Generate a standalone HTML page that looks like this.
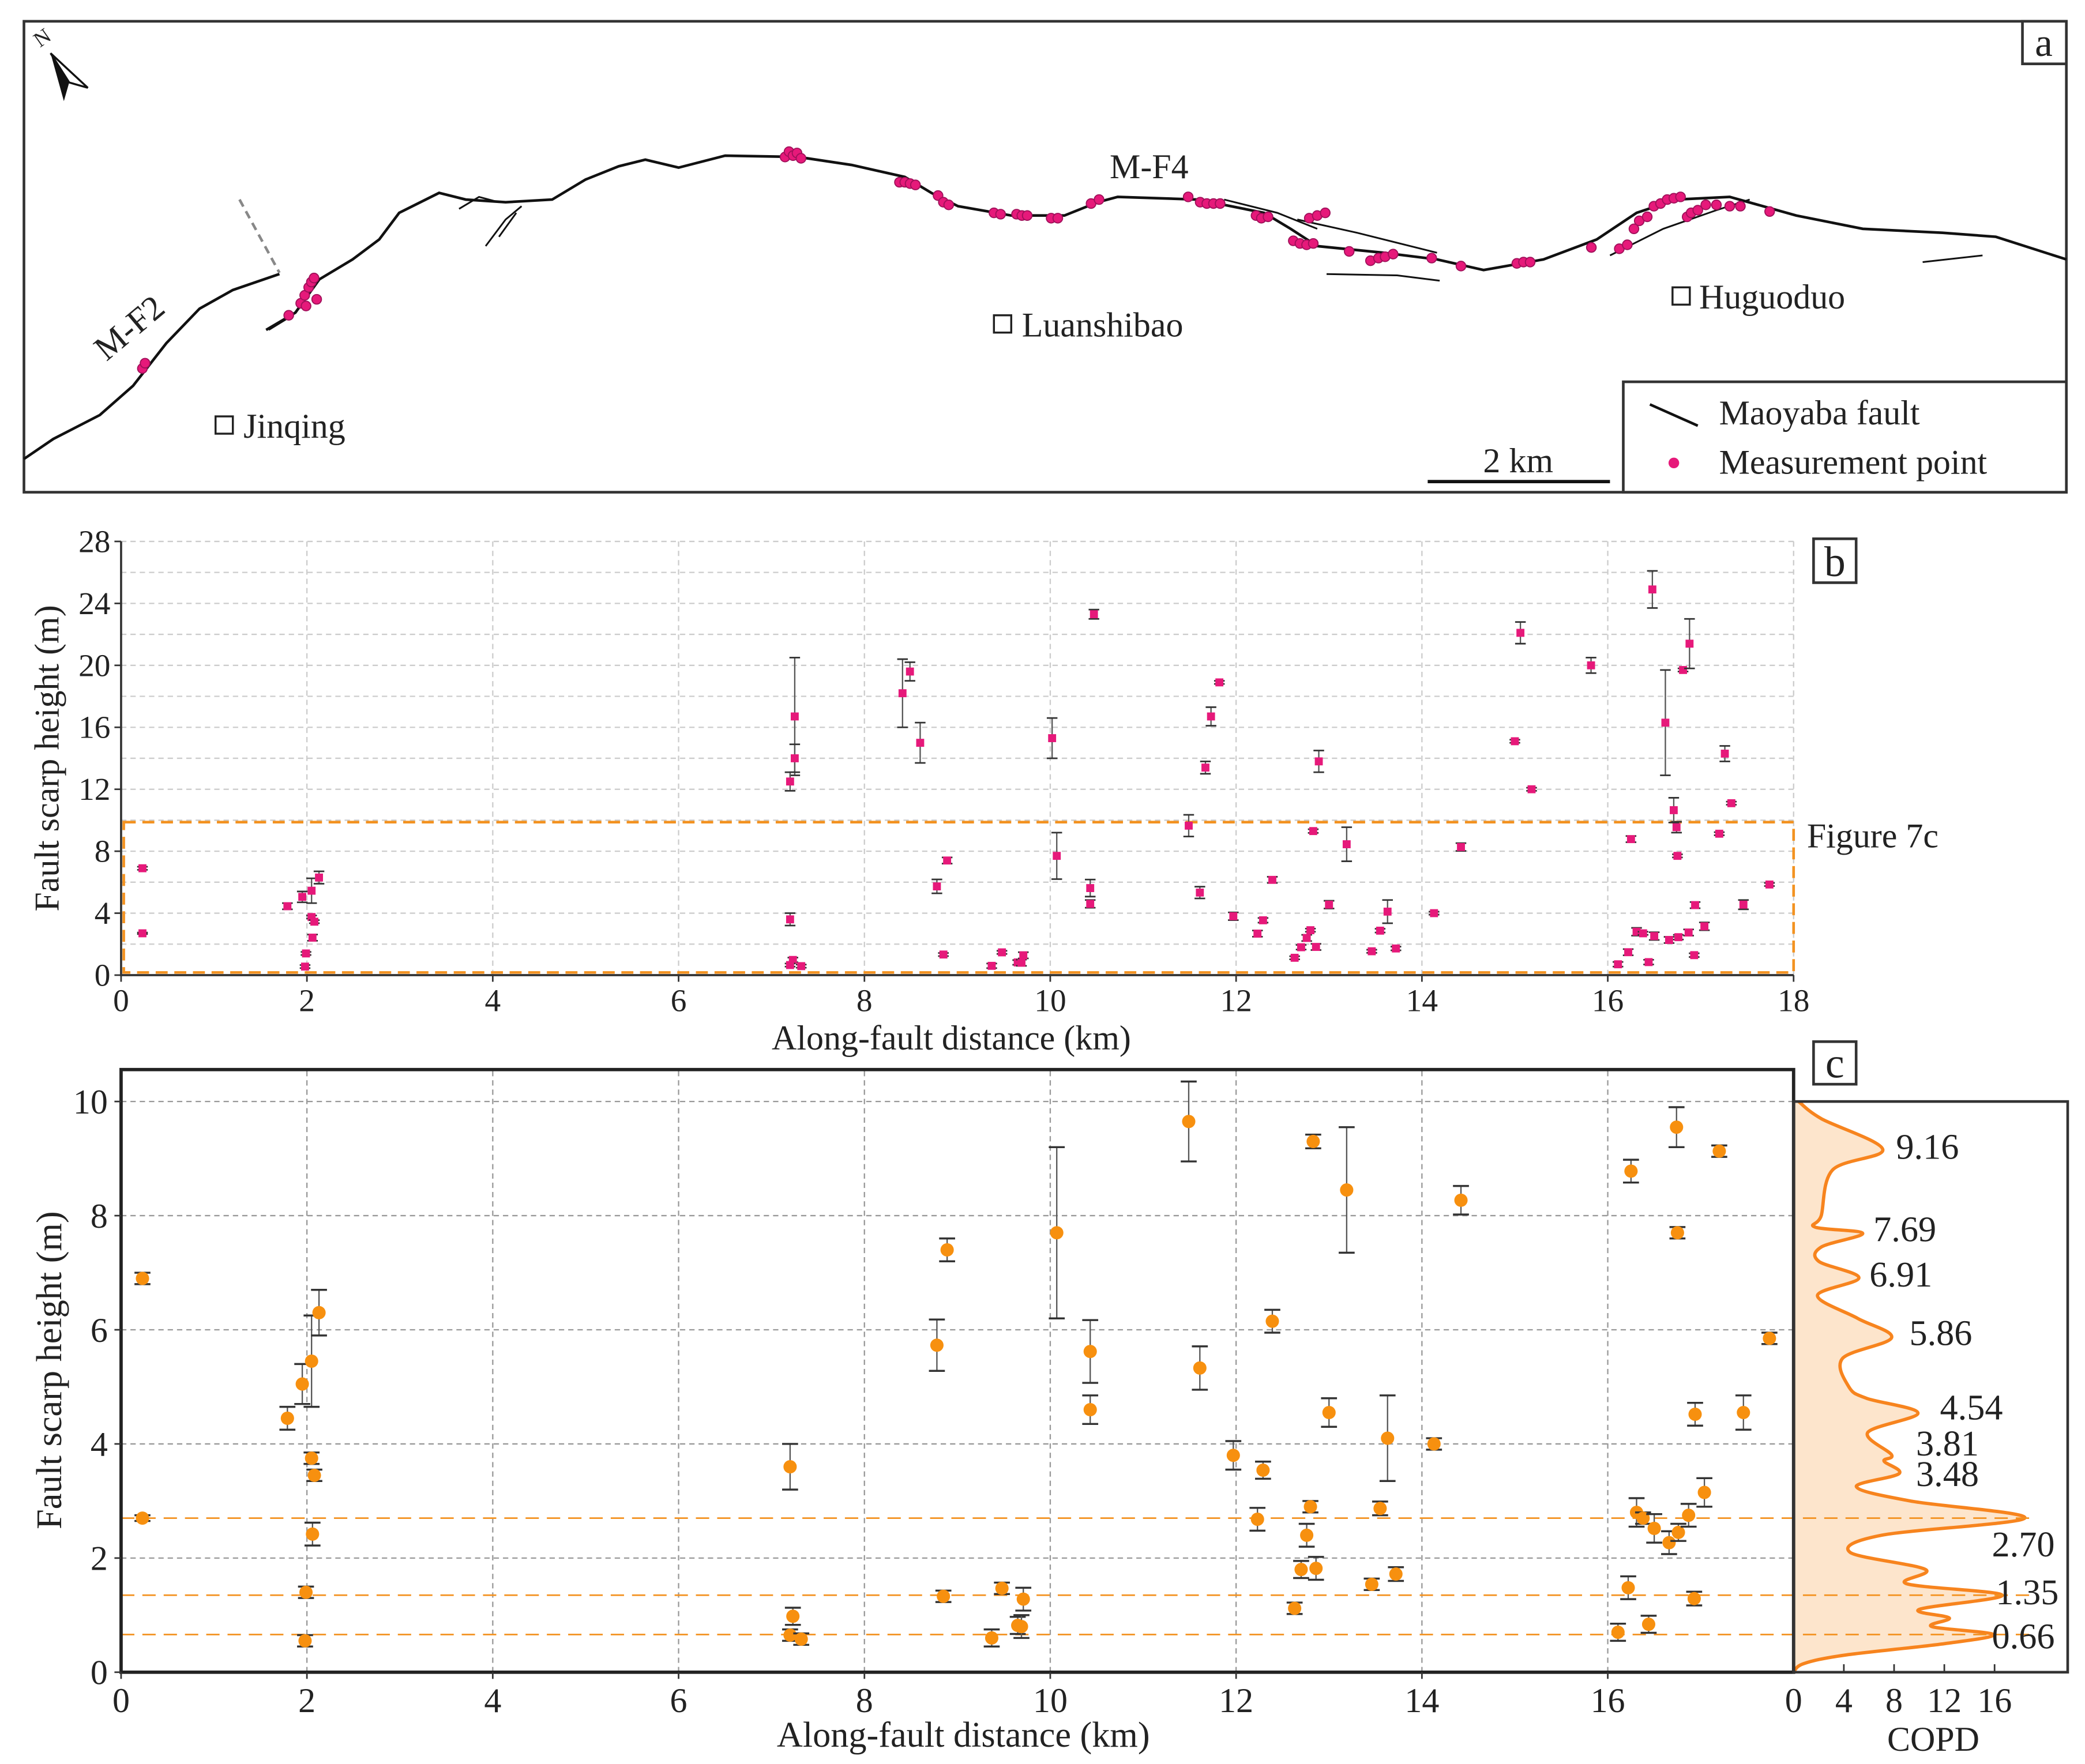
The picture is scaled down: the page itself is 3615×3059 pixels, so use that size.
<!DOCTYPE html>
<html><head><meta charset="utf-8">
<style>
html,body{margin:0;padding:0;background:#fff;}
svg{display:block;}
text{font-family:"Liberation Serif",serif;fill:#222;}
</style></head>
<body>
<svg id="fig" width="3615" height="3059" viewBox="0 0 1567 1326" xmlns="http://www.w3.org/2000/svg">
<rect width="1567" height="1326" fill="#fff"/>
<g id="map">
  <rect x="18" y="16" width="1535" height="354" fill="none" stroke="#333" stroke-width="2"/>
  <rect x="1520" y="16" width="33" height="32" fill="#fff" stroke="#333" stroke-width="2"/>
  <text x="1536" y="42" font-size="30" text-anchor="middle">a</text>
  <g>
    <polygon points="38,40 48,76 52,62" fill="#111"/>
    <polygon points="38,40 66,66 52,62" fill="#fff" stroke="#111" stroke-width="1.5"/>
    <text x="30" y="36" font-size="16" transform="rotate(-35 30 36)">N</text>
  </g>
  <polyline fill="none" stroke="#111" stroke-width="2" points="18,345 40,330 75,312 100,290 125,258 150,232 175,218 210,206"/>
  <line x1="180" y1="150" x2="210" y2="205" stroke="#888" stroke-width="2" stroke-dasharray="6,4"/>
  <polyline fill="none" stroke="#111" stroke-width="2" points="200,248 222,235 240,210 265,195 285,180 300,160 330,145 350,150 380,152 415,150 440,135 465,125 485,120 510,126 545,117 600,118 640,124 680,133 700,145 720,155 760,162 800,162 825,152 840,148 900,150 950,160 970,172 990,185 1040,190 1080,195 1115,203 1160,195 1200,180 1230,160 1260,150 1300,148 1350,162 1400,172 1460,175 1500,178 1553,195"/>
  <g fill="none" stroke="#111" stroke-width="1.3">
    <polyline points="345,157 360,148 375,152"/>
    <polyline points="365,185 380,165 392,155"/>
    <polyline points="375,178 388,160"/>
    <polyline points="920,150 960,160 990,172"/>
    <polyline points="975,165 1020,175 1080,190"/>
    <polyline points="997,206 1050,207 1082,211"/>
    <polyline points="1210,192 1250,172 1290,158 1315,150"/>
    <polyline points="1445,197 1490,192"/>
    <polyline points="202,248 215,240"/>
  </g>
  <g id="mapPts" fill="#e6197a" stroke="#a0105a" stroke-width="0.8"></g>
  <text x="80" y="272" font-size="26" transform="rotate(-40 80 272)">M-F2</text>
  <text x="834" y="134" font-size="26">M-F4</text>
  <rect x="162" y="313" width="13" height="13" fill="none" stroke="#222" stroke-width="1.5"/>
  <text x="183" y="329" font-size="26">Jinqing</text>
  <rect x="747" y="237" width="13" height="13" fill="none" stroke="#222" stroke-width="1.5"/>
  <text x="768" y="253" font-size="26">Luanshibao</text>
  <rect x="1257" y="216" width="13" height="13" fill="none" stroke="#222" stroke-width="1.5"/>
  <text x="1277" y="232" font-size="26">Huguoduo</text>
  <line x1="1073" y1="362" x2="1210" y2="362" stroke="#111" stroke-width="2.5"/>
  <text x="1141" y="355" font-size="26" text-anchor="middle">2 km</text>
  <g>
    <rect x="1220" y="287" width="333" height="83" fill="#fff" stroke="#333" stroke-width="2"/>
    <line x1="1240" y1="304" x2="1276" y2="320" stroke="#111" stroke-width="2"/>
    <text x="1292" y="319" font-size="26">Maoyaba fault</text>
    <circle cx="1258" cy="348" r="4" fill="#e6197a"/>
    <text x="1292" y="356" font-size="26">Measurement point</text>
  </g>
</g>
<g id="pb"></g>
<g id="pc"></g>
</svg>
<script>
const distLow = [0.23,0.23,1.79,1.95,1.99,1.98,2.05,2.05,2.08,2.06,2.13,7.2,7.23,7.2,7.32,8.78,8.89,8.85,9.37,9.48,9.65,9.69,9.71,10.07,10.43,10.43,11.49,11.61,11.97,12.23,12.29,12.39,12.63,12.7,12.76,12.8,12.83,12.86,13.0,13.19,13.46,13.55,13.63,13.72,14.13,14.42,16.11,16.22,16.25,16.31,16.38,16.44,16.5,16.66,16.74,16.75,16.76,16.87,16.94,16.93,17.04,17.2,17.46,17.74];
const heightLow = [6.9,2.7,4.45,5.05,1.4,0.55,5.45,3.75,3.45,2.42,6.3,3.6,0.98,0.65,0.58,5.73,7.4,1.33,0.6,1.47,0.82,0.8,1.28,7.7,5.62,4.6,9.65,5.33,3.8,2.68,3.54,6.15,1.12,1.8,2.4,2.9,9.3,1.82,4.55,8.45,1.54,2.87,4.1,1.72,4.0,8.27,0.7,1.48,8.78,2.8,2.7,0.84,2.52,2.27,9.55,7.7,2.45,2.75,4.52,1.29,3.15,9.13,4.55,5.85];
const errLow = [0.1,0.05,0.2,0.35,0.1,0.1,0.8,0.1,0.1,0.2,0.4,0.4,0.15,0.1,0.1,0.45,0.2,0.1,0.15,0.1,0.15,0.2,0.2,1.5,0.55,0.25,0.7,0.38,0.25,0.2,0.15,0.2,0.1,0.15,0.2,0.1,0.12,0.2,0.25,1.1,0.1,0.12,0.75,0.12,0.1,0.25,0.15,0.2,0.2,0.25,0.1,0.15,0.25,0.2,0.35,0.1,0.15,0.2,0.2,0.12,0.25,0.1,0.3,0.1];
const distHigh = [7.25,7.25,7.2,8.41,8.49,8.6,10.02,10.47,11.67,11.73,11.82,12.89,15.0,15.06,15.18,15.82,16.48,16.62,16.71,16.81,16.88,17.26,17.33];
const heightHigh = [16.7,14.0,12.5,18.2,19.6,15.0,15.3,23.3,13.4,16.7,18.9,13.8,15.1,22.1,12.0,20.0,24.9,16.3,10.65,19.7,21.4,14.3,11.1];
const errHigh = [3.8,0.9,0.6,2.2,0.6,1.3,1.3,0.3,0.4,0.6,0.1,0.7,0.1,0.7,0.1,0.5,1.2,3.4,0.8,0.1,1.6,0.5,0.1];
const copdHeights = [0,0.15,0.3,0.5,0.66,0.8,0.95,1.1,1.35,1.55,1.8,2.1,2.4,2.7,3.0,3.25,3.48,3.7,3.81,4.2,4.54,4.8,5.0,5.5,5.86,6.2,6.6,6.91,7.2,7.45,7.69,7.8,8.0,8.8,9.16,9.7,10.0];
const copdDensity = [0,0.8,4.1,12,15.9,11,12.4,10,16.6,9,10.5,4.5,7,18.4,9.3,5.0,8.4,7.2,7.8,5.9,9.9,5.8,4.4,3.9,7.8,5.1,1.9,5.2,2.0,2.2,5.5,1.7,2.2,3.1,7.1,2.2,0.4];
const peakLabels = ["9.16","7.69","6.91","5.86","4.54","3.81","3.48","2.70","1.35","0.66"];
const peakLabelPos = [[1425,871],[1408,933],[1405,967],[1435,1011],[1458,1067],[1440,1094],[1440,1117],[1497,1170],[1500,1206],[1497,1239]];
const dashedPeaks = [0.66,1.35,2.70];
const xTicks = [0,2,4,6,8,10,12,14,16,18];
const bYTicks = [0,4,8,12,16,20,24,28];
const cYTicks = [0,2,4,6,8,10];
const copdTicks = [0,4,8,12,16];
const mapPtsX = [107,109,217,226,229,232,234,236,238,230,590,593,596,599,602,676,680,684,688,705,709,713,747,752,764,768,772,790,795,820,826,893,902,907,912,917,944,948,953,972,977,982,987,984,990,996,1014,1030,1036,1041,1047,1076,1098,1140,1145,1150,1196,1217,1223,1228,1232,1238,1243,1248,1253,1258,1263,1268,1271,1276,1282,1290,1300,1308,1330];
const mapPtsY = [277,273,237,228,222,216,212,209,225,230,118,114,117,115,119,137,137,138,139,147,152,154,160,161,161,162,162,164,164,153,150,148,152,153,153,153,162,164,163,181,183,184,183,164,162,160,189,196,194,193,191,194,200,198,197,197,186,187,184,172,166,163,155,153,150,149,148,163,160,158,154,154,155,155,159];

const NS="http://www.w3.org/2000/svg";
function mk(parent,tag,attrs){const e=document.createElementNS(NS,tag);for(const k in attrs)e.setAttribute(k,attrs[k]);parent.appendChild(e);return e;}

const mp=document.getElementById('mapPts');
for(let i=0;i<mapPtsX.length;i++){
  const c=mk(mp,'circle',{cx:mapPtsX[i],cy:mapPtsY[i],r:3.6});
  
  
}

const X0=91,X1=1348;
const xs=d=>X0+(d/18)*(X1-X0);
const bY=h=>733-(h/28)*(733-407);
const cY=h=>1257-(h/10)*(1257-828);
const cpX=v=>1348+v*9.44;

const pb=document.getElementById('pb');
for(let v=0;v<=28;v+=2){const l=mk(pb,'line',{x1:X0,x2:X1,y1:bY(v),y2:bY(v),stroke:'#ccc','stroke-width':1,'stroke-dasharray':'4,3'});

}
for(let v=2;v<=18;v+=2){const l=mk(pb,'line',{x1:xs(v),x2:xs(v),y1:bY(0),y2:bY(28),stroke:'#ccc','stroke-width':1,'stroke-dasharray':'4,3'});

}
const bax=mk(pb,'path',{d:`M${X0},${bY(28)} V${bY(0)} H${X1}`,fill:'none',stroke:'#333','stroke-width':1.6});


xTicks.forEach(t=>{
  mk(pb,'line',{x1:xs(t),x2:xs(t),y1:bY(0),y2:bY(0)+5,stroke:'#333','stroke-width':1.2});
  const tx=mk(pb,'text',{x:xs(t),y:bY(0)+27,'font-size':24,'text-anchor':'middle'});tx.textContent=t;
  
  
});
bYTicks.forEach(t=>{
  mk(pb,'line',{x1:X0-5,x2:X0,y1:bY(t),y2:bY(t),stroke:'#333','stroke-width':1.2});
  const tx=mk(pb,'text',{x:X0-8,y:bY(t)+8,'font-size':24,'text-anchor':'end'});tx.textContent=t;
  
  
});
let t=mk(pb,'text',{x:715,y:789,'font-size':26,'text-anchor':'middle'});t.textContent='Along-fault distance (km)';


t=mk(pb,'text',{x:44,y:570,'font-size':26,'text-anchor':'middle',transform:'rotate(-90 44 570)'});t.textContent='Fault scarp height (m)';


t=mk(pb,'rect',{x:93,y:618,width:1255,height:113,fill:'none',stroke:'#f39220','stroke-width':2,'stroke-dasharray':'9,5'});


t=mk(pb,'text',{x:1358,y:637,'font-size':26});t.textContent='Figure 7c';


t=mk(pb,'rect',{x:1363,y:405,width:32,height:33,fill:'#fff',stroke:'#333','stroke-width':2});


t=mk(pb,'text',{x:1379,y:433,'font-size':32,'text-anchor':'middle'});t.textContent='b';


function bPoint(d,h,e){
  const x=xs(d),y=bY(h),y1=bY(h+e),y2=bY(h-e);
  const g=mk(pb,'g',{});
  
  
  mk(g,'line',{x1:x,x2:x,y1:y1,y2:y2,stroke:'#555','stroke-width':1});
  mk(g,'line',{x1:x-4,x2:x+4,y1:y1,y2:y1,stroke:'#333','stroke-width':1.2});
  mk(g,'line',{x1:x-4,x2:x+4,y1:y2,y2:y2,stroke:'#333','stroke-width':1.2});
  mk(g,'rect',{x:x-3,y:y-3,width:6,height:6,fill:'#e6197a'});
}
for(let i=0;i<distLow.length;i++)bPoint(distLow[i],heightLow[i],errLow[i]);
for(let i=0;i<distHigh.length;i++)bPoint(distHigh[i],heightHigh[i],errHigh[i]);

const pc=document.getElementById('pc');
for(let v=2;v<=10;v+=2){const l=mk(pc,'line',{x1:X0,x2:X1,y1:cY(v),y2:cY(v),stroke:'#999','stroke-width':1,'stroke-dasharray':'4,3'});

}
for(let v=2;v<=16;v+=2){const l=mk(pc,'line',{x1:xs(v),x2:xs(v),y1:cY(0),y2:804,stroke:'#999','stroke-width':1,'stroke-dasharray':'4,3'});

}
// smooth COPD curve (Catmull-Rom)
const P=copdHeights.map((h,i)=>[cpX(copdDensity[i]),cY(h)]);
let smooth=`M${P[0][0]},${P[0][1]}`;
for(let i=0;i<P.length-1;i++){
  const p0=P[Math.max(0,i-1)],p1=P[i],p2=P[i+1],p3=P[Math.min(P.length-1,i+2)];
  const c1=[p1[0]+(p2[0]-p0[0])/6,p1[1]+(p2[1]-p0[1])/6];
  const c2=[p2[0]-(p3[0]-p1[0])/6,p2[1]-(p3[1]-p1[1])/6];
  smooth+=` C${c1[0]},${c1[1]} ${c2[0]},${c2[1]} ${p2[0]},${p2[1]}`;
}
t=mk(pc,'path',{d:`M${cpX(0)},${cY(0)} `+smooth.slice(1)+` L${cpX(0)},${cY(10)} Z`,fill:'#fde5cc',stroke:'none'});


t=mk(pc,'path',{d:smooth,fill:'none',stroke:'#f7841e','stroke-width':2.5,'stroke-linejoin':'round'});


dashedPeaks.forEach(p=>{const l=mk(pc,'line',{x1:X0,x2:1525,y1:cY(p),y2:cY(p),stroke:'#f39220','stroke-width':1.2,'stroke-dasharray':'10,6'});

});
t=mk(pc,'rect',{x:X0,y:804,width:X1-X0,height:1257-804,fill:'none',stroke:'#222','stroke-width':2.5});


t=mk(pc,'rect',{x:1348,y:828,width:1554-1348,height:1257-828,fill:'none',stroke:'#333','stroke-width':2});


xTicks.forEach(v=>{
  if(v===18)return;
  mk(pc,'line',{x1:xs(v),x2:xs(v),y1:cY(0),y2:cY(0)+5,stroke:'#333','stroke-width':1.2});
  const tx=mk(pc,'text',{x:xs(v),y:cY(0)+30,'font-size':26,'text-anchor':'middle'});tx.textContent=v;
  
  
});
cYTicks.forEach(v=>{
  mk(pc,'line',{x1:X0-5,x2:X0,y1:cY(v),y2:cY(v),stroke:'#333','stroke-width':1.2});
  const tx=mk(pc,'text',{x:X0-10,y:cY(v)+9,'font-size':26,'text-anchor':'end'});tx.textContent=v;
  
  
});
copdTicks.forEach(v=>{
  mk(pc,'line',{x1:cpX(v),x2:cpX(v),y1:cY(0),y2:cY(0)-6,stroke:'#333','stroke-width':1.2});
  const tx=mk(pc,'text',{x:cpX(v),y:cY(0)+30,'font-size':26,'text-anchor':'middle'});tx.textContent=v;
  
  
});
t=mk(pc,'text',{x:1453,y:1316,'font-size':26,'text-anchor':'middle'});t.textContent='COPD';


t=mk(pc,'text',{x:724,y:1313,'font-size':27,'text-anchor':'middle'});t.textContent='Along-fault distance (km)';


t=mk(pc,'text',{x:46,y:1030,'font-size':27,'text-anchor':'middle',transform:'rotate(-90 46 1030)'});t.textContent='Fault scarp height (m)';


t=mk(pc,'rect',{x:1363,y:783,width:32,height:32,fill:'#fff',stroke:'#333','stroke-width':2});


t=mk(pc,'text',{x:1379,y:810,'font-size':32,'text-anchor':'middle'});t.textContent='c';


peakLabels.forEach((s,i)=>{
  const tx=mk(pc,'text',{x:peakLabelPos[i][0],y:peakLabelPos[i][1],'font-size':27});tx.textContent=s;
  
  
});
for(let i=0;i<distLow.length;i++){
  const x=xs(distLow[i]),y=cY(heightLow[i]),y1=cY(heightLow[i]+errLow[i]),y2=cY(heightLow[i]-errLow[i]);
  const g=mk(pc,'g',{});
  
  
  mk(g,'line',{x1:x,x2:x,y1:y1,y2:y2,stroke:'#555','stroke-width':1});
  mk(g,'line',{x1:x-6,x2:x+6,y1:y1,y2:y1,stroke:'#333','stroke-width':1.5});
  mk(g,'line',{x1:x-6,x2:x+6,y1:y2,y2:y2,stroke:'#333','stroke-width':1.5});
  mk(g,'circle',{cx:x,cy:y,r:5,fill:'#f7900f'});
}
</script>
</body></html>
